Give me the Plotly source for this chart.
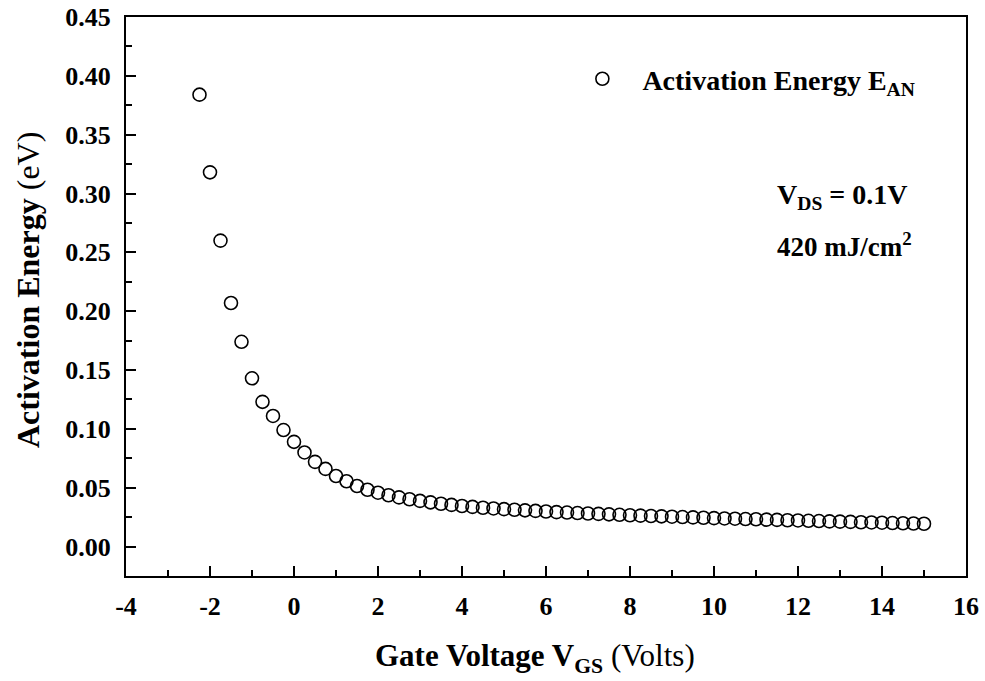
import plotly.graph_objects as go

# Gate voltage (V) and activation energy (eV)
vgs = [-2.25, -2.0, -1.75, -1.5, -1.25, -1.0, -0.75, -0.5, -0.25, 0.0,
       0.25, 0.5, 0.75, 1.0, 1.25, 1.5, 1.75, 2.0, 2.25, 2.5,
       2.75, 3.0, 3.25, 3.5, 3.75, 4.0, 4.25, 4.5, 4.75, 5.0,
       5.25, 5.5, 5.75, 6.0, 6.25, 6.5, 6.75, 7.0, 7.25, 7.5,
       7.75, 8.0, 8.25, 8.5, 8.75, 9.0, 9.25, 9.5, 9.75, 10.0,
       10.25, 10.5, 10.75, 11.0, 11.25, 11.5, 11.75, 12.0, 12.25, 12.5,
       12.75, 13.0, 13.25, 13.5, 13.75, 14.0, 14.25, 14.5, 14.75, 15.0]
ea = [0.384, 0.318, 0.260, 0.207, 0.174, 0.143, 0.123, 0.111, 0.099, 0.089,
      0.080, 0.072, 0.066, 0.060, 0.0555, 0.0515, 0.0483, 0.0458, 0.0436, 0.0418,
      0.0402, 0.0388, 0.0376, 0.0364, 0.0354, 0.0345, 0.0337, 0.0330, 0.0324, 0.0318,
      0.0313, 0.0308, 0.0303, 0.0298, 0.0293, 0.0289, 0.0285, 0.0281, 0.0278, 0.0274,
      0.0270, 0.0266, 0.0263, 0.0260, 0.0257, 0.0254, 0.0251, 0.0248, 0.0245, 0.0242,
      0.0239, 0.0237, 0.0234, 0.0232, 0.0229, 0.0227, 0.0224, 0.0222, 0.0219, 0.0217,
      0.0214, 0.0212, 0.0210, 0.0207, 0.0205, 0.0203, 0.0200, 0.0198, 0.0196, 0.0194]

x_tickvals = [-4, -2, 0, 2, 4, 6, 8, 10, 12, 14, 16]
x_ticktext = ["-4", "-2", "0", "2", "4", "6", "8", "10", "12", "14", "16"]

series_name = "<b>Activation Energy E<sub>AN</sub></b>"
note_lines = ["<b>V<sub>DS</sub> = 0.1V</b>", "<b>420 mJ/cm<sup>2</sup></b>"]
x_title = "<b>Gate Voltage V<sub>GS</sub></b> (Volts)"
y_title = "<b>Activation Energy</b> (eV)"

FONT = "Liberation Serif, Times New Roman, serif"

fig = go.Figure()
fig.add_trace(go.Scatter(
    x=vgs, y=ea, mode="markers", name=series_name,
    marker=dict(symbol="circle-open", size=13, color="black",
                line=dict(width=1.6, color="black")),
))

fig.update_layout(
    width=985, height=681,
    margin=dict(l=126, r=19, t=17, b=105, autoexpand=False),
    paper_bgcolor="white", plot_bgcolor="white",
    font=dict(family=FONT, color="black"),
    showlegend=True,
    legend=dict(x=0.5195, y=0.889, xanchor="left", yanchor="middle",
                bgcolor="rgba(0,0,0,0)", font=dict(size=28, family=FONT),
                itemwidth=70),
)

fig.update_xaxes(
    range=[-4, 16], tickmode="array", tickvals=x_tickvals, ticktext=x_ticktext,
    ticks="inside", ticklen=10, tickwidth=2, tickcolor="black",
    minor=dict(ticks="inside", ticklen=6, tickwidth=1.5, dtick=1, tick0=-4,
               tickcolor="black"),
    showline=True, linecolor="black", linewidth=2, mirror=True,
    showgrid=False, zeroline=False, automargin=False,
    tickfont=dict(size=26, family=FONT, weight="bold"),
    ticklabelstandoff=6,
)
fig.update_yaxes(
    range=[-0.025, 0.45], tickmode="linear", tick0=0, dtick=0.05,
    tickformat=".2f",
    ticks="inside", ticklen=10, tickwidth=2, tickcolor="black",
    minor=dict(ticks="inside", ticklen=6, tickwidth=1.5, dtick=0.025, tickcolor="black"),
    showline=True, linecolor="black", linewidth=2, mirror=True,
    showgrid=False, zeroline=False, automargin=False,
    tickfont=dict(size=26, family=FONT, weight="bold"),
    ticklabelstandoff=8,
)

# axis titles
fig.add_annotation(xref="paper", yref="paper", x=0.487, y=0, yshift=-82,
                   text=x_title, showarrow=False,
                   font=dict(size=31, family=FONT), xanchor="center", yanchor="middle")
fig.add_annotation(xref="paper", yref="paper", x=0, xshift=-98, y=0.5116,
                   text=y_title, showarrow=False, textangle=-90,
                   font=dict(size=32, family=FONT), xanchor="center", yanchor="middle")

# condition notes
fig.add_annotation(xref="paper", yref="paper", x=0.852, y=0.678,
                   text=note_lines[0], showarrow=False,
                   font=dict(size=28, family=FONT), xanchor="center", yanchor="middle")
fig.add_annotation(xref="paper", yref="paper", x=0.855, y=0.592,
                   text=note_lines[1], showarrow=False,
                   font=dict(size=27, family=FONT), xanchor="center", yanchor="middle")

fig.write_html("out.html")
